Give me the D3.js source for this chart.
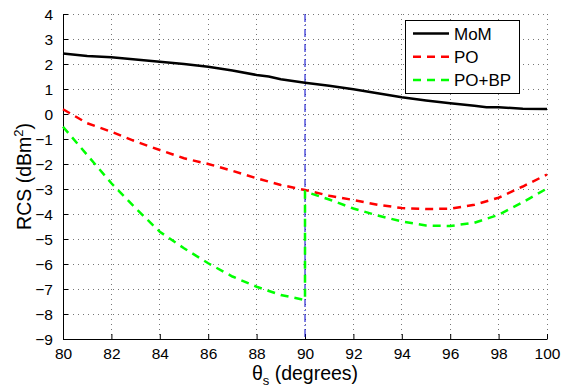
<!DOCTYPE html>
<html><head><meta charset="utf-8">
<script src="https://cdn.jsdelivr.net/npm/d3@7/dist/d3.min.js"></script>
<style>
body{margin:0;background:#fff;}
text{font-family:"Liberation Sans",Arial,sans-serif;}
</style></head>
<body><svg id="c" width="561" height="390"></svg>
<script>
const xTicks=[80,82,84,86,88,90,92,94,96,98,100];
const yTicks=[4,3,2,1,0,-1,-2,-3,-4,-5,-6,-7,-8,-9];
const seriesNames=["MoM","PO","PO+BP"];
const seriesColors=["#000000","#ff0000","#00ff00"];
const momTheta=[80,81,82,83,84,85,86,87,88,88.5,89,90,91,92,93,94,95,96,97,97.5,98,99,100];
const momRCS=[2.42,2.32,2.27,2.18,2.09,2.0,1.89,1.74,1.56,1.5,1.39,1.25,1.13,0.99,0.83,0.67,0.54,0.43,0.33,0.27,0.27,0.21,0.2];
const poTheta=[80,81,82,83,84,85,86,87,88,89,90,91,92,93,94,95,96,97,98,99,100];
const poRCS=[0.19,-0.37,-0.71,-1.1,-1.44,-1.77,-2.0,-2.27,-2.57,-2.84,-3.04,-3.27,-3.44,-3.63,-3.76,-3.8,-3.79,-3.63,-3.35,-2.9,-2.42];
const pobpTheta=[80,81,82,83,84,85,86,87,88,89,90,90,91,92,93,94,95,96,97,98,99,100];
const pobpRCS=[-0.51,-1.64,-2.77,-3.77,-4.71,-5.37,-5.97,-6.5,-6.91,-7.24,-7.44,-3.1,-3.42,-3.78,-4.06,-4.3,-4.46,-4.48,-4.35,-4.03,-3.53,-2.98];
const markerTheta=90;

const svg=d3.select("#c");
const L=63,R=547,T=14,B=339;
const x=d3.scaleLinear().domain([80,100]).range([L,R]);
const y=d3.scaleLinear().domain([-9,4]).range([B,T]);

// grid
const g=svg.append("g");
g.selectAll(".gx").data(xTicks).enter().append("line")
 .attr("x1",d=>x(d)).attr("x2",d=>x(d)).attr("y1",T).attr("y2",B)
 .attr("stroke","#777").attr("stroke-width",1).attr("stroke-dasharray","1,4").attr("shape-rendering","crispEdges");
g.selectAll(".gy").data(yTicks).enter().append("line")
 .attr("x1",L).attr("x2",R).attr("y1",d=>y(d)).attr("y2",d=>y(d))
 .attr("stroke","#777").attr("stroke-width",1).attr("stroke-dasharray","1,4").attr("shape-rendering","crispEdges");

// axes
const xAxis=d3.axisBottom(x).tickValues(xTicks).tickSizeInner(-5).tickSizeOuter(0).tickPadding(9);
const yAxis=d3.axisLeft(y).tickValues(yTicks).tickSizeInner(-5).tickSizeOuter(0).tickPadding(10)
 .tickFormat(d=>d<0?"\u2212"+Math.abs(d):d);
const gx=svg.append("g").attr("transform",`translate(0,${B})`).call(xAxis);
const gy=svg.append("g").attr("transform",`translate(${L},0)`).call(yAxis);
[gx,gy].forEach(a=>{
 a.selectAll("text").attr("font-size","15.5px").attr("fill","#000").attr("font-family","'Liberation Sans',Arial,sans-serif");
 a.selectAll("line").attr("stroke","#000");
 a.select(".domain").attr("stroke","#000");
});
gy.selectAll("text").attr("dy","0.36em");

// vertical marker
svg.append("line").attr("x1",x(markerTheta)).attr("x2",x(markerTheta)).attr("y1",T).attr("y2",B)
 .attr("stroke","#0000cc").attr("stroke-width",1).attr("stroke-dasharray","8,3,1,3");

const line=d3.line().x(d=>x(d[0])).y(d=>y(d[1]));
const data=[d3.zip(momTheta,momRCS),d3.zip(poTheta,poRCS),d3.zip(pobpTheta,pobpRCS)];
const dashes=[null,"8,6","8,6"];
data.forEach((d,i)=>{
 svg.append("path").datum(d).attr("d",line).attr("fill","none")
  .attr("stroke",seriesColors[i]).attr("stroke-width",2.5)
  .attr("stroke-dasharray",dashes[i]);
});

// legend
const lg=svg.append("g");
lg.append("rect").attr("x",405.5).attr("y",20.5).attr("width",114).attr("height",73)
 .attr("fill","#fff").attr("stroke","#000").attr("stroke-width",1);
seriesNames.forEach((n,i)=>{
 const yy=33.5+i*23.3;
 lg.append("line").attr("x1",413).attr("x2",449).attr("y1",yy).attr("y2",yy)
  .attr("stroke",seriesColors[i]).attr("stroke-width",2.5).attr("stroke-dasharray",dashes[i]);
 lg.append("text").attr("x",454).attr("y",yy).attr("dy","0.36em").attr("font-size","17px").text(n);
});

// axis labels
const xl=svg.append("text").attr("x",(L+R)/2).attr("y",380).attr("text-anchor","middle").attr("font-size","19.5px");
xl.append("tspan").text("\u03b8");
xl.append("tspan").attr("dy",5).attr("font-size","13px").text("s");
xl.append("tspan").attr("dy",-5).text(" (degrees)");
const yl=svg.append("text").attr("transform",`translate(31,${(T+B)/2}) rotate(-90)`).attr("text-anchor","middle").attr("font-size","19.5px");
yl.append("tspan").text("RCS (dBm");
yl.append("tspan").attr("dy",-8).attr("font-size","13px").text("2");
yl.append("tspan").attr("dy",8).text(")");
</script></body></html>
